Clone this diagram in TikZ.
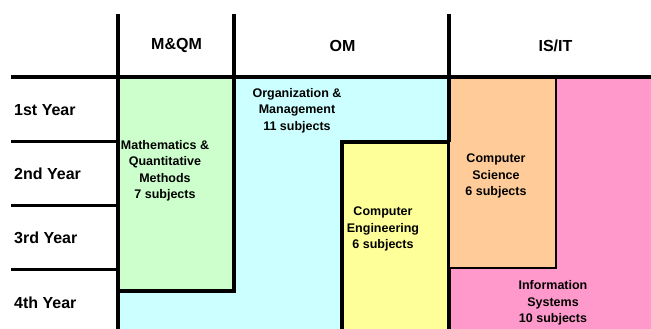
\documentclass[tikz,border=0pt]{standalone}
\usepackage{fontspec}
\setmainfont{Liberation Sans}
\usepackage{tikz}
\definecolor{mqmgreen}{HTML}{CCFFCC}
\definecolor{omcyan}{HTML}{CCFFFF}
\definecolor{ceyellow}{HTML}{FFFF99}
\definecolor{csorange}{HTML}{FFCC99}
\definecolor{ispink}{HTML}{FF99CC}

\begin{document}
\begin{tikzpicture}[x=1pt,y=-1pt,
	rule/.style={line width=4pt},
	rowrule/.style={line width=3pt},
	area/.style={draw=black,line width=4pt},
	head/.style={font=\fontsize{16}{19}\selectfont\bfseries,inner sep=0pt},
	yearlabel/.style={head,anchor=base west},
	subj/.style={font=\fontsize{12.5}{16.5}\selectfont\bfseries,align=center,inner sep=0pt}]
	\useasboundingbox (0,0) rectangle (651,329);
	\clip (0,0) rectangle (651,329);
	% areas
	\fill[omcyan] (118,77) rectangle (449,340);
	\fill[ispink] (449,77) rectangle (660,340);
	\filldraw[area,fill=mqmgreen] (118,77) rectangle (234,291);
	\filldraw[area,fill=ceyellow] (342,142) rectangle (448.5,345);
	\filldraw[area,fill=csorange,line width=2pt] (449,77) rectangle (556,268);
	% table rules
	\draw[rule] (11,77) -- (651,77);
	\draw[rule] (118,14) -- (118,340);
	\draw[rule] (234,14) -- (234,77);
	\draw[rule] (448.5,14) -- (448.5,142);
	\draw[rowrule] (11,141.3) -- (118,141.3);
	\draw[rowrule] (11,205.7) -- (118,205.7);
	\draw[rowrule] (11,269.7) -- (118,269.7);
	% headings
	\node[head] (mqm) at (176.5,45.5) {M\&QM};
	\node[head] (om) at (342.5,45.5) {OM};
	\node[head] (isit) at (555.5,45.5) {IS/IT};
	\node[yearlabel] (y1) at (14,115) {1st Year};
	\node[yearlabel] (y2) at (14,179) {2nd Year};
	\node[yearlabel] (y3) at (14,243) {3rd Year};
	\node[yearlabel] (y4) at (14,308) {4th Year};
	% subject groups
	\node[subj] (orgm) at (297,110.5) {Organization \&\\Management\\11 subjects};
	\node[subj] (maths) at (165,171) {Mathematics \&\\Quantitative\\Methods\\7 subjects};
	\node[subj] (compe) at (383,229) {Computer\\Engineering\\6 subjects};
	\node[subj] (comps) at (496,176) {Computer\\Science\\6 subjects};
	\node[subj] (infos) at (553,303) {Information\\Systems\\10 subjects};
\end{tikzpicture}
\end{document}
